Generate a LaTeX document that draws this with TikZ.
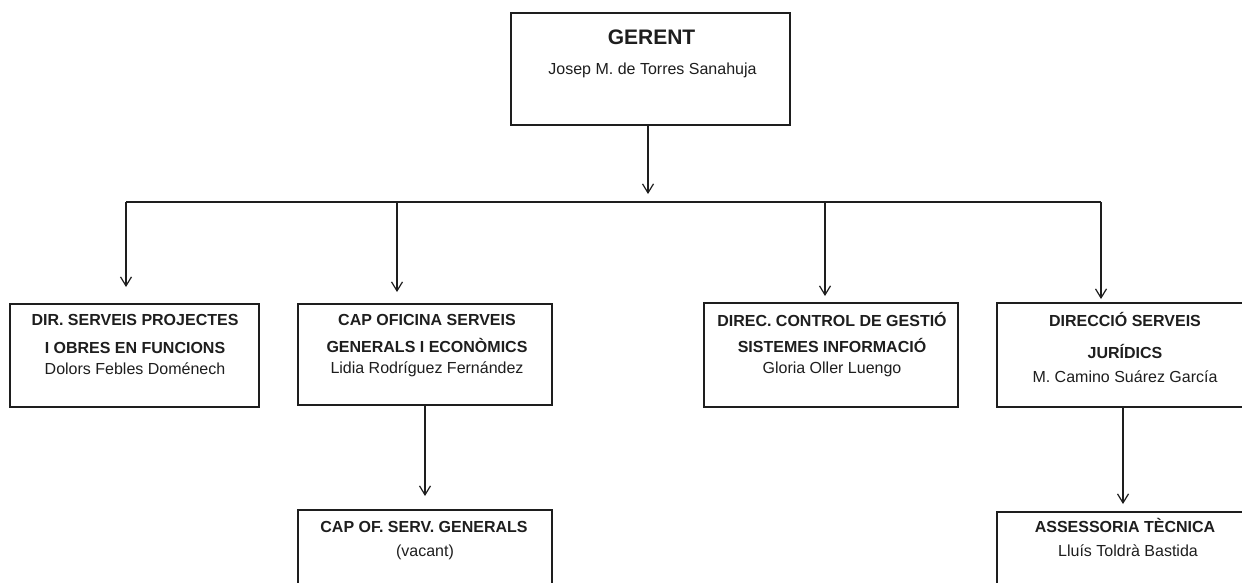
\documentclass[tikz,border=0pt]{standalone}
\usepackage{fontspec}
\setmainfont{Liberation Sans}
\usetikzlibrary{arrows.meta}
\definecolor{ink}{HTML}{1E1E1E}
\tikzset{
  box/.style={draw=ink, line width=2pt, rectangle, inner sep=0pt},
  ttl/.style={anchor=base, inner sep=0pt, text=ink, font=\fontsize{16}{16}\selectfont\bfseries},
  big/.style={anchor=base, inner sep=0pt, text=ink, font=\fontsize{21}{21}\selectfont\bfseries},
  nm/.style={anchor=base, inner sep=0pt, text=ink, font=\fontsize{16}{16}\selectfont},
  conn/.style={draw=ink, line width=1.2pt},
  arr/.style={conn, -{Straight Barb[length=9pt,width=11pt,line width=1.2pt]}},
}
\begin{document}
\begin{tikzpicture}[x=1pt,y=-1pt]
\useasboundingbox (0,0) rectangle (1242,583);
\clip (0,0) rectangle (1242,583);
\fill[white] (0,0) rectangle (1242,583);
% boxes
\node[box, minimum width=279pt, minimum height=112pt] (g) at (650.5,69) {};
\node[box, minimum width=249pt, minimum height=103pt] (b1) at (134.5,355.5) {};
\node[box, minimum width=254pt, minimum height=101pt] (b2) at (425,354.5) {};
\node[box, minimum width=254pt, minimum height=104pt] (b3) at (831,355) {};
\node[box, minimum width=255pt, minimum height=104pt] (b4) at (1124.5,355) {};
\node[box, minimum width=254pt, minimum height=110pt] (b5) at (425,565) {};
\node[box, minimum width=255pt, minimum height=110pt] (b6) at (1124.5,567) {};
% texts
\node[big] (gt) at (651.5,45) {GERENT};
\node[nm] (gn) at (652.5,75) {Josep M. de Torres Sanahuja};
\node[ttl] (b1a) at (135,325) {DIR. SERVEIS PROJECTES};
\node[ttl] (b1b) at (135,353) {I OBRES EN FUNCIONS};
\node[nm] (b1c) at (135,374) {Dolors Febles Doménech};
\node[ttl] (b2a) at (427,325) {CAP OFICINA SERVEIS};
\node[ttl] (b2b) at (427,352) {GENERALS I ECONÒMICS};
\node[nm] (b2c) at (427,373) {Lidia Rodríguez Fernández};
\node[ttl] (b3a) at (832,326) {DIREC. CONTROL DE GESTIÓ};
\node[ttl] (b3b) at (832,352) {SISTEMES INFORMACIÓ};
\node[nm] (b3c) at (832,373) {Gloria Oller Luengo};
\node[ttl] (b4a) at (1125,326) {DIRECCIÓ SERVEIS};
\node[ttl] (b4b) at (1125,358) {JURÍDICS};
\node[nm] (b4c) at (1125,382) {M. Camino Suárez García};
\node[ttl] (b5a) at (424,532) {CAP OF. SERV. GENERALS};
\node[nm] (b5b) at (425,556) {(vacant)};
\node[ttl] (b6a) at (1125,532) {ASSESSORIA TÈCNICA};
\node[nm] (b6b) at (1128,556) {Lluís Toldrà Bastida};
% bus
\coordinate (top) at (648,125);
\coordinate (bus) at (648,202);
\coordinate (d1) at (126,202);
\coordinate (d2) at (397,202);
\coordinate (d3) at (825,202);
\coordinate (d4) at (1101,202);
\draw[arr, shorten >=8pt] (top) -- (bus);
\draw[conn] (d1) -- (d4);
\draw[arr, shorten >=16pt] (d1) -- (d1 |- b1.north);
\draw[arr, shorten >=11pt] (d2) -- (d2 |- b2.north);
\draw[arr, shorten >=6pt] (d3) -- (d3 |- b3.north);
\draw[arr, shorten >=3pt] (d4) -- (d4 |- b4.north);
\coordinate (s2) at (425,405);
\coordinate (s4) at (1123,407);
\draw[arr, shorten >=13pt] (s2) -- (s2 |- b5.north);
\draw[arr, shorten >=7pt] (s4) -- (s4 |- b6.north);
\end{tikzpicture}
\end{document}
